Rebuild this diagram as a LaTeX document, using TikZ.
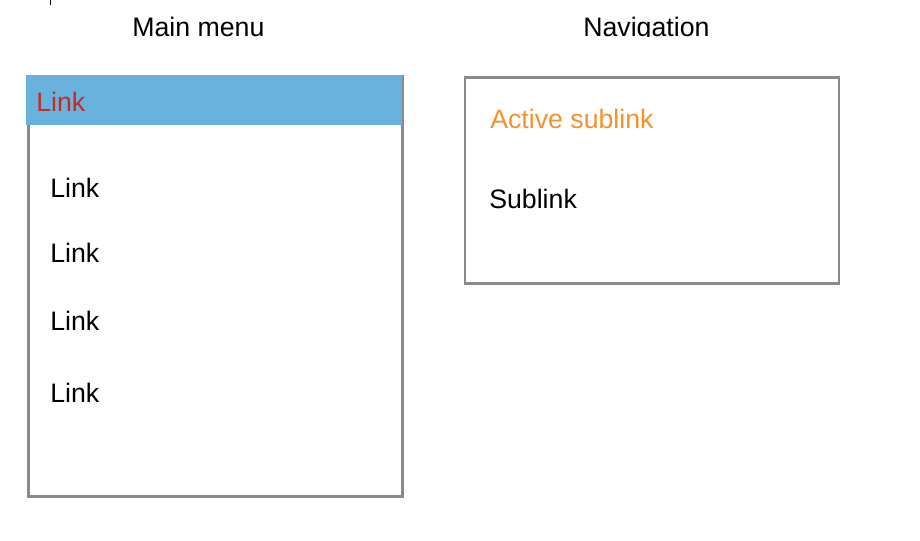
\documentclass[tikz,border=0pt]{standalone}
\usepackage{fontspec}
\setmainfont{Liberation Sans}
\usepackage{xcolor}
\usepackage{tikz}
\usetikzlibrary{positioning}

\definecolor{panelgray}{HTML}{898A8E}
\definecolor{barblue}{HTML}{69B2DD}
\definecolor{linkred}{HTML}{C9291F}
\definecolor{activeorange}{HTML}{F5922A}

\begin{document}
\begin{tikzpicture}[
  x=0.25mm, y=-0.25mm,
  font=\fontsize{19}{23}\selectfont,
  panel/.style={draw=panelgray, line width=0.7mm, fill=white,
    minimum width=93.5mm, anchor=north west, inner sep=0pt, outer sep=0pt},
  bar/.style={fill=barblue, minimum width=94mm, minimum height=12.5mm,
    anchor=north west, inner sep=0pt, outer sep=0pt},
  title/.style={anchor=base west, inner sep=0pt},
  entry/.style={anchor=base west, inner sep=0pt},
]
  \useasboundingbox (0,0) rectangle (920,540);

  \coordinate (tick) at (50,0);
  \draw[line width=0.25mm] (tick) -- ++(0,5);

  \begin{scope}
    \clip (0,0) rectangle (920,36.5);
    \node[title] (maintitle) at (132,36.7) {Main menu};
    \node[title] (navtitle)  at (583,36.7) {Navigation};
  \end{scope}

  \node[panel, minimum height=104.9mm] (main) at (28.5,76.5) {};
  \node[bar] (active) at (26,75) {};
  \node[entry, text=linkred] (link0) at (36,111) {Link};
  \foreach \y [count=\i] in {197,262,330,402}
    \node[entry] (link\i) at (50,\y) {Link};

  \node[panel, minimum height=51.4mm] (nav) at (465,77.5) {};
  \node[entry, text=activeorange] (sub1) at (490,128) {Active sublink};
  \node[entry] (sub2) at (489,208) {Sublink};
\end{tikzpicture}
\end{document}
